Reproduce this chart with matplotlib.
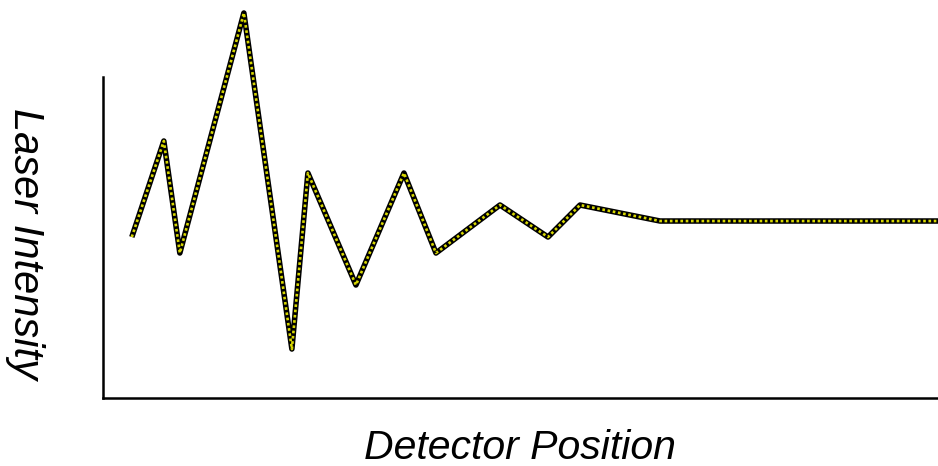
import numpy as np
import matplotlib.pyplot as plt

# detector positions and laser intensity
position = [0, 2, 3, 7, 10, 11, 14, 17, 19, 23, 26, 28, 33, 38, 43, 48, 52]
intensity = [-1, 5, -2, 13, -8, 3, -4, 3, -2, 1, -1, 1, 0, 0, 0, 0, 0]


def plot():
    W, H = 938, 466
    fig = plt.figure(figsize=(W / 100, H / 100), dpi=100)
    ax = fig.add_axes([103 / W, 68 / H, 834 / W, 321 / H])

    ax.plot(position, intensity, color="black", linewidth=4.0, clip_on=False,
            solid_capstyle="butt")
    ax.plot(position, intensity, color="#d8d800", linewidth=1.9, linestyle=(0, (1, 1)),
            clip_on=False)

    ax.set_xlim(-1.8, 50.3)
    ax.set_ylim(-11.06, 9)
    ax.set_xticks([])
    ax.set_yticks([])
    ax.spines["top"].set_visible(False)
    ax.spines["right"].set_visible(False)
    ax.spines["left"].set_linewidth(1.8)
    ax.spines["bottom"].set_linewidth(1.8)

    # axis titles placed on the figure (y title reads top to bottom)
    fig.text(520 / W, 1 - 459 / H, "Detector Position", fontsize=29.5, style="italic",
             family="Liberation Sans", ha="center", va="baseline")
    fig.text(25 / W, 1 - 243 / H, "Laser Intensity", fontsize=30, style="italic",
             family="Liberation Sans", ha="center", va="center", rotation=270)

    fig.savefig("out.png", dpi=100)


if __name__ == "__main__":
    plot()
